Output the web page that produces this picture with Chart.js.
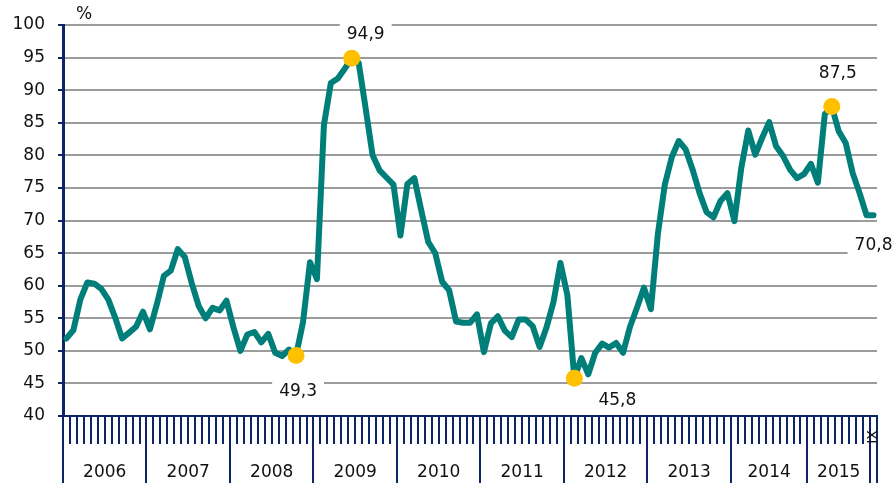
<!DOCTYPE html>
<html>
<head>
<meta charset="utf-8">
<script src="https://cdn.jsdelivr.net/npm/chart.js@4.4.1/dist/chart.umd.min.js"></script>
<style>
  html, body { margin: 0; padding: 0; background: #fff; }
  canvas { display: block; }
</style>
</head>
<body>
<canvas id="chart" width="894" height="483"></canvas>
<script>
// Dane: miesiące I.2006 – IX.2015, %
const romanMonths = ['I', 'II', 'III', 'IV', 'V', 'VI', 'VII', 'VIII', 'IX', 'X', 'XI', 'XII'];
const years = ['2006', '2007', '2008', '2009', '2010', '2011', '2012', '2013', '2014', '2015'];

const values = [
    51.9, 53.2, 57.9, 60.5, 60.3, 59.5, 57.9, 55.1, 51.9, 52.8, 53.7, 56.0,   // 2006
    53.3, 57.2, 61.5, 62.3, 65.6, 64.4, 60.4, 56.9, 55.0, 56.6, 56.2, 57.7,   // 2007
    53.6, 50.0, 52.5, 52.9, 51.3, 52.6, 49.7, 49.2, 50.2, 49.3, 54.4, 63.6,   // 2008
    61.0, 84.6, 91.1, 91.8, 93.3, 94.9, 94.2, 87.2, 80.0, 77.7, 76.6, 75.5,   // 2009
    67.7, 75.6, 76.5, 71.5, 66.7, 65.0, 60.6, 59.3, 54.5, 54.3, 54.3, 55.6,   // 2010
    49.8, 54.2, 55.3, 53.1, 52.1, 54.8, 54.8, 53.8, 50.6, 53.6, 57.5, 63.5,   // 2011
    58.5, 45.8, 48.9, 46.4, 49.7, 51.1, 50.5, 51.2, 49.7, 53.7, 56.6, 59.7,   // 2012
    56.4, 67.9, 75.5, 79.7, 82.2, 80.9, 77.8, 74.2, 71.3, 70.5, 73.0, 74.2,   // 2013
    69.9, 78.1, 83.8, 80.1, 82.7, 85.1, 81.4, 79.9, 77.8, 76.5, 77.1, 78.7,   // 2014
    75.8, 86.3, 87.5, 83.7, 81.9, 77.3, 74.2, 70.8, 70.8                      // 2015
];

// grupy na osi X (tak jak w oryginale)
const groupLabels = ['2006', '2007', '2008', '2009', '2010', '2011', '2012', '2013', '2014', '2015'];
const groupSizes = [12, 12, 12, 12, 12, 12, 12, 12, 11, 9];

// wyróżnione punkty (min / max) i ostatni punkt
const markedPoints = [33, 41, 73, 110];
const labeledPoints = [33, 41, 73, 110, 116];
const labelOffsets = [[2, 36], [14, -24], [43, 22], [6, -33], [0, 30]];

const yTicks = { min: 40, max: 100, step: 5 };

// kategorie
const categories = [];
years.forEach(function (y) {
    romanMonths.forEach(function (m) {
        if (categories.length < values.length) categories.push(m + ' ' + y);
    });
});

const navy = '#0b2566';
const teal = '#007f7a';
const gold = '#ffc000';
const font = 'DejaVu Sans';

function fmt(v) {
    return v.toFixed(1).replace('.', ',');
}

// os lat pod osia miesiecy
const yearAxis = {
    id: 'yearAxis',
    afterDraw(chart) {
        const c = chart.ctx;
        const xs = chart.scales.x;
        const bottom = chart.chartArea.bottom;
        const w = (xs.right - xs.left) / categories.length;
        c.save();
        c.strokeStyle = navy;
        c.lineWidth = 2;
        c.fillStyle = '#111';
        c.font = '17px "' + font + '"';
        c.textAlign = 'center';
        c.textBaseline = 'middle';
        let k = 0;
        const bounds = [0];
        groupSizes.forEach(function (n, i) {
            const x0 = xs.left + k * w;
            k += n;
            const x1 = xs.left + k * w;
            bounds.push(k);
            c.fillText(groupLabels[i], (x0 + x1) / 2, 473);
        });
        bounds.push(categories.length);
        bounds.forEach(function (b) {
            const x = Math.round(xs.left + b * w);
            c.beginPath();
            c.moveTo(x, bottom);
            c.lineTo(x, chart.height);
            c.stroke();
        });
        // ostatni miesiac
        const last = categories[categories.length - 1].split(' ')[0];
        const xl = xs.getPixelForValue(categories.length - 1);
        c.translate(xl, bottom + 21);
        c.rotate(-Math.PI / 2);
        c.font = '14px "' + font + '"';
        c.fillText(last, 0, 0);
        c.restore();

        // jednostka
        c.save();
        c.fillStyle = '#111';
        c.font = '17px "' + font + '"';
        c.textBaseline = 'middle';
        c.fillText('%', 76, 15);
        c.restore();
    }
};

// etykiety wartosci z bialym tlem
const callouts = {
    id: 'callouts',
    beforeDatasetsDraw(chart) {
        const c = chart.ctx;
        const meta = chart.getDatasetMeta(0);
        c.save();
        c.font = '17px "' + font + '"';
        c.textAlign = 'center';
        c.textBaseline = 'middle';
        labeledPoints.forEach(function (idx, i) {
            const p = meta.data[idx];
            const txt = fmt(values[idx]);
            const x = p.x + labelOffsets[i][0];
            const y = p.y + labelOffsets[i][1];
            const tw = c.measureText(txt).width;
            c.fillStyle = '#fff';
            c.fillRect(x - tw / 2 - 7, y - 11, tw + 14, 22);
            c.fillStyle = '#111';
            c.fillText(txt, x, y);
        });
        c.restore();
    }
};

const ctx = document.getElementById('chart');
const chart = new Chart(ctx, {
    type: 'line',
    data: {
        labels: categories,
        datasets: [{
            data: values,
            borderColor: teal,
            borderWidth: 6,
            borderJoinStyle: 'round',
            borderCapStyle: 'round',
            tension: 0,
            pointRadius: function (c) { return markedPoints.includes(c.dataIndex) ? 8.5 : 0; },
            pointBackgroundColor: gold,
            pointBorderColor: gold,
            pointBorderWidth: 0
        }]
    },
    options: {
        responsive: false,
        animation: false,
        devicePixelRatio: 1,
        layout: { padding: { top: 25, right: 17, left: 0, bottom: 0 } },
        plugins: {
            legend: { display: false },
            tooltip: { enabled: false }
        },
        scales: {
            x: {
                offset: true,
                grid: {
                    offset: true,
                    drawOnChartArea: false,
                    tickLength: 28,
                    color: navy,
                    lineWidth: 2
                },
                border: { color: navy, width: 2 },
                ticks: { display: false, autoSkip: false },
                afterFit: function (s) { s.height = 67; }
            },
            y: {
                min: yTicks.min,
                max: yTicks.max,
                ticks: {
                    stepSize: yTicks.step,
                    padding: 13,
                    color: '#111',
                    font: { family: font, size: 17 }
                },
                grid: {
                    color: '#9c9c9c',
                    lineWidth: 2,
                    tickLength: 5,
                    tickColor: navy,
                    tickWidth: 2
                },
                border: { color: navy, width: 3 },
                afterFit: function (s) { s.width = 63; }
            }
        }
    },
    plugins: [yearAxis, callouts]
});
</script>
</body>
</html>
